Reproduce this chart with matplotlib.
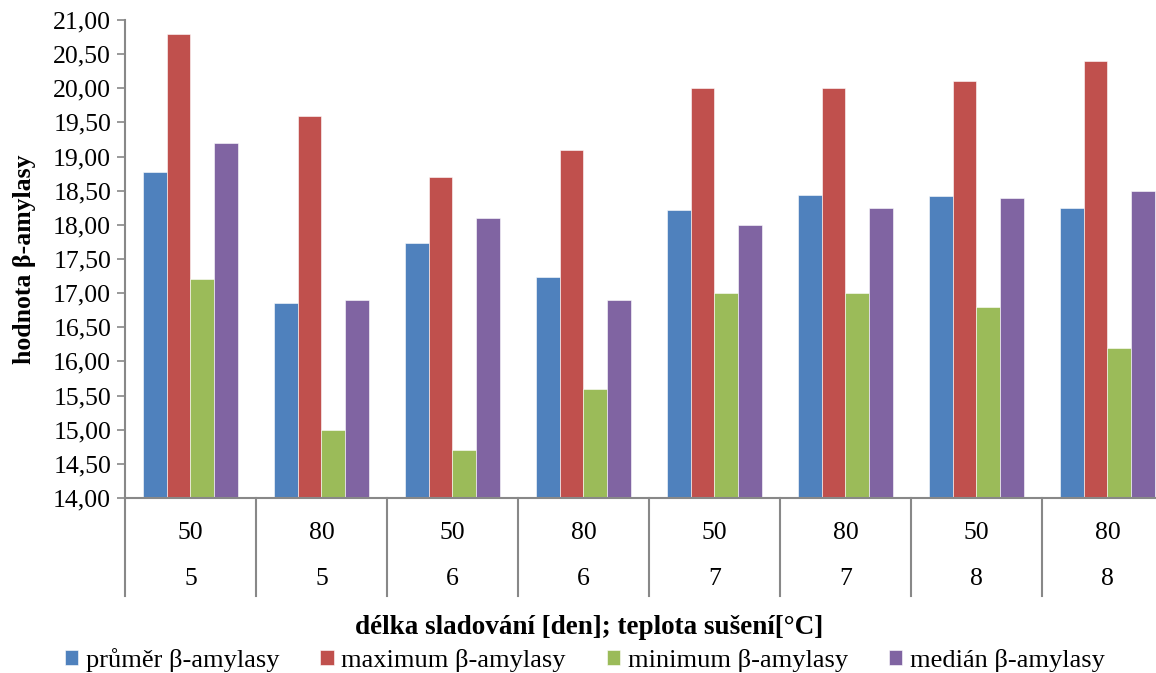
import matplotlib.pyplot as plt
import numpy as np
from matplotlib.ticker import FuncFormatter

plt.rcParams['font.family'] = ['Liberation Serif', 'DejaVu Serif']

# délka sladování [den] a teplota sušení [°C] pro každou skupinu
dny = ['5', '5', '6', '6', '7', '7', '8', '8']
teploty = ['50', '80', '50', '80', '50', '80', '50', '80']

prumer = [18.78, 16.85, 17.73, 17.23, 18.22, 18.44, 18.42, 18.24]
maximum = [20.8, 19.6, 18.7, 19.1, 20.0, 20.0, 20.1, 20.4]
minimum = [17.2, 15.0, 14.7, 15.6, 17.0, 17.0, 16.8, 16.2]
median = [19.2, 16.9, 18.1, 16.9, 18.0, 18.25, 18.4, 18.5]

serie = [
    ('průměr β-amylasy', prumer, '#4F81BD'),
    ('maximum β-amylasy', maximum, '#C0504D'),
    ('minimum β-amylasy', minimum, '#9BBB59'),
    ('medián β-amylasy', median, '#8064A2'),
]

fig = plt.figure(figsize=(11.56, 6.73), dpi=100)
ax = fig.add_axes([0.1081, 0.26, 0.9066, 0.7103])

x = np.arange(len(dny))
width = 0.181
for i, (nazev, hodnoty, barva) in enumerate(serie):
    ax.bar(x + (i - 1.5) * width, np.array(hodnoty) - 14, width, bottom=14,
           color=barva, edgecolor='white', linewidth=0.4, label=nazev)

ax.set_xlim(-0.5, len(dny) - 0.5)
ax.set_ylim(14, 21)
ax.set_yticks(np.arange(14, 21.01, 0.5))
ax.yaxis.set_major_formatter(FuncFormatter(lambda v, p: f'{v:.2f}'.replace('.', ',')))
ax.tick_params(axis='y', labelsize=18.5, length=6, width=1.2, color='#888888', pad=4)
ax.set_xticks([])

for s in ['top', 'right']:
    ax.spines[s].set_visible(False)
for s in ['left', 'bottom']:
    ax.spines[s].set_color('#888888')
    ax.spines[s].set_linewidth(1.5)

# dvouúrovňové popisky kategorií s oddělovači
trans = ax.get_xaxis_transform()
for k in range(len(dny) + 1):
    ax.plot([k - 0.5, k - 0.5], [0, -0.205], transform=trans, color='#888888',
            linewidth=1.5, clip_on=False)
for k in range(len(dny)):
    ax.text(k, -0.073, teploty[k], transform=trans, ha='center', va='center', fontsize=18.5)
    ax.text(k, -0.17, dny[k], transform=trans, ha='center', va='center', fontsize=18.5)

ax.set_ylabel('hodnota β-amylasy', fontsize=18.5, fontweight='bold', labelpad=12)
fig.text(0.51, 0.068, 'délka sladování [den]; teplota sušení[°C]', ha='center', va='center',
         fontsize=19.5, fontweight='bold')

fig.legend(loc='center', bbox_to_anchor=(0.506, 0.019), ncol=4, frameon=False, fontsize=19,
           handlelength=0.5, handleheight=0.5, handletextpad=0.3, columnspacing=1.55)

fig.savefig('out.png', dpi=100)
